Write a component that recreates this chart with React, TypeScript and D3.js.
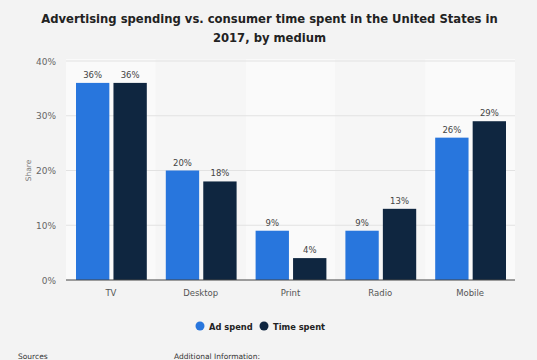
import React from "react";
import * as d3 from "d3";

const categories = ["TV", "Desktop", "Print", "Radio", "Mobile"];
const adSpend = [36, 20, 9, 9, 26];
const timeSpent = [36, 18, 4, 13, 29];
const yTicks = [0, 10, 20, 30, 40];
const seriesNames = ["Ad spend", "Time spent"];
const seriesColors = ["#2876dd", "#0f2640"];

const W = 537;
const H = 360;
const font = "DejaVu Sans, sans-serif";

const App = () => {
  const left = 66;
  const right = 515;
  const top = 61;
  const bottom = 280;

  const x = d3.scaleBand().domain(categories).range([left, right]);
  const inner = d3.scaleBand().domain(seriesNames).range([10, x.bandwidth() - 9]).paddingInner(0.11);
  const y = d3.scaleLinear().domain([0, 40]).range([bottom, top]);
  const series = [adSpend, timeSpent];

  return (
    <svg width={W} height={H} style={{ position: "absolute", left: 0, top: 0, display: "block" }} fontFamily={font}>
      <rect width={W} height={H} fill="#f3f3f3" />
      {categories.map((c, i) => (
        <rect key={c} x={x(c)} y={top - 2} width={x.bandwidth()} height={bottom - top + 2}
          fill={i % 2 === 0 ? "#fafafa" : "#f6f6f6"} />
      ))}
      <text x={W / 2 + 1} y={23} textAnchor="middle" fontSize={11.6} fontWeight="bold" fill="#222">
        Advertising spending vs. consumer time spent in the United States in
      </text>
      <text x={W / 2 + 1} y={42} textAnchor="middle" fontSize={11.6} fontWeight="bold" fill="#222">
        2017, by medium
      </text>
      {yTicks.map(t => (
        <g key={t}>
          {t > 0 && <line x1={left} x2={right} y1={y(t)} y2={y(t)} stroke="#e2e2e2" strokeWidth={1} />}
          <text x={56} y={y(t) + 3.5} textAnchor="end" fontSize={9} fill="#666">{t}%</text>
        </g>
      ))}
      <text transform={`translate(31,${(top + bottom) / 2}) rotate(-90)`} textAnchor="middle" fontSize={7.5} fill="#777">Share</text>
      {categories.map((c, i) => (
        <g key={c}>
          {series.map((s, k) => {
            const bx = (x(c) as number) + (inner(seriesNames[k]) as number);
            return (
              <g key={k}>
                <rect x={bx} y={y(s[i])} width={inner.bandwidth()} height={bottom - y(s[i])} fill={seriesColors[k]} />
                <text x={bx + inner.bandwidth() / 2} y={y(s[i]) - 5} textAnchor="middle" fontSize={8.5} fill="#444">{s[i]}%</text>
              </g>
            );
          })}
          <text x={(x(c) as number) + x.bandwidth() / 2} y={296} textAnchor="middle" fontSize={8.5} fill="#555">{c}</text>
        </g>
      ))}
      <line x1={left} x2={right} y1={bottom} y2={bottom} stroke="#444" strokeWidth={1} />
      <g>
        <circle cx={200} cy={326} r={4.5} fill={seriesColors[0]} />
        <text x={209} y={329.5} fontSize={8.3} fontWeight="bold" fill="#222">{seriesNames[0]}</text>
        <circle cx={264} cy={326} r={4.5} fill={seriesColors[1]} />
        <text x={273} y={329.5} fontSize={8.3} fontWeight="bold" fill="#222">{seriesNames[1]}</text>
      </g>
      <text x={18} y={359} fontSize={7.5} fill="#333">Sources</text>
      <text x={174} y={359} fontSize={7.5} fill="#333">Additional Information:</text>
    </svg>
  );
};

export default App;
